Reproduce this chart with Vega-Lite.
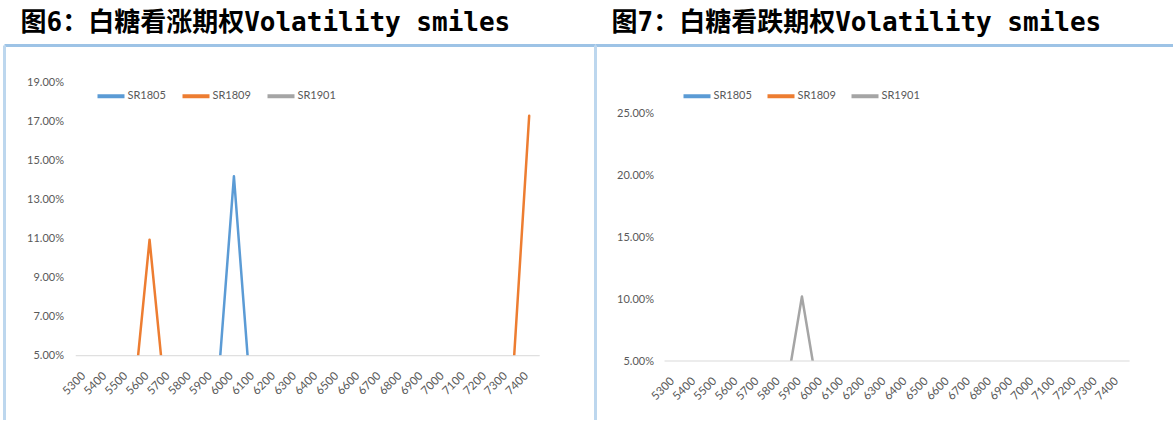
{
  "$schema": "https://vega.github.io/schema/vega-lite/v6.json",
  "background": "#ffffff",
  "padding": {"left": 4, "top": 10, "right": 0, "bottom": 0},
  "spacing": 0,
  "config": {
    "view": {"stroke": null},
    "font": "Lato",
    "axis": {"labelFont": "Lato", "labelColor": "#595959", "labelFontSize": 11, "title": null, "grid": false, "ticks": false, "tickSize": 0},
    "legend": {"labelFont": "Lato", "labelColor": "#595959", "labelFontSize": 11},
    "title": {"font": "DejaVu Sans Mono, Noto Sans CJK SC", "fontSize": 26, "fontWeight": "bold", "color": "#000000", "anchor": "start", "frame": "group", "offset": 9, "dx": 16.5}
  },
  "datasets": {
    "calls": [
      {"strike": 5300, "series": "SR1805", "iv": 0}, {"strike": 5400, "series": "SR1805", "iv": 0}, {"strike": 5500, "series": "SR1805", "iv": 0}, {"strike": 5600, "series": "SR1805", "iv": 0}, {"strike": 5700, "series": "SR1805", "iv": 0}, {"strike": 5800, "series": "SR1805", "iv": 0}, {"strike": 5900, "series": "SR1805", "iv": 0}, {"strike": 6000, "series": "SR1805", "iv": 0.142}, {"strike": 6100, "series": "SR1805", "iv": 0}, {"strike": 6200, "series": "SR1805", "iv": 0}, {"strike": 6300, "series": "SR1805", "iv": 0}, {"strike": 6400, "series": "SR1805", "iv": 0}, {"strike": 6500, "series": "SR1805", "iv": 0}, {"strike": 6600, "series": "SR1805", "iv": 0}, {"strike": 6700, "series": "SR1805", "iv": 0}, {"strike": 6800, "series": "SR1805", "iv": 0}, {"strike": 6900, "series": "SR1805", "iv": 0}, {"strike": 7000, "series": "SR1805", "iv": 0}, {"strike": 7100, "series": "SR1805", "iv": 0}, {"strike": 7200, "series": "SR1805", "iv": 0}, {"strike": 7300, "series": "SR1805", "iv": 0}, {"strike": 7400, "series": "SR1805", "iv": 0},
      {"strike": 5300, "series": "SR1809", "iv": 0}, {"strike": 5400, "series": "SR1809", "iv": 0}, {"strike": 5500, "series": "SR1809", "iv": 0}, {"strike": 5600, "series": "SR1809", "iv": 0.1095}, {"strike": 5700, "series": "SR1809", "iv": 0}, {"strike": 5800, "series": "SR1809", "iv": 0}, {"strike": 5900, "series": "SR1809", "iv": 0}, {"strike": 6000, "series": "SR1809", "iv": 0}, {"strike": 6100, "series": "SR1809", "iv": 0}, {"strike": 6200, "series": "SR1809", "iv": 0}, {"strike": 6300, "series": "SR1809", "iv": 0}, {"strike": 6400, "series": "SR1809", "iv": 0}, {"strike": 6500, "series": "SR1809", "iv": 0}, {"strike": 6600, "series": "SR1809", "iv": 0}, {"strike": 6700, "series": "SR1809", "iv": 0}, {"strike": 6800, "series": "SR1809", "iv": 0}, {"strike": 6900, "series": "SR1809", "iv": 0}, {"strike": 7000, "series": "SR1809", "iv": 0}, {"strike": 7100, "series": "SR1809", "iv": 0}, {"strike": 7200, "series": "SR1809", "iv": 0}, {"strike": 7300, "series": "SR1809", "iv": 0}, {"strike": 7400, "series": "SR1809", "iv": 0.173},
      {"strike": 5300, "series": "SR1901", "iv": 0}, {"strike": 5400, "series": "SR1901", "iv": 0}, {"strike": 5500, "series": "SR1901", "iv": 0}, {"strike": 5600, "series": "SR1901", "iv": 0}, {"strike": 5700, "series": "SR1901", "iv": 0}, {"strike": 5800, "series": "SR1901", "iv": 0}, {"strike": 5900, "series": "SR1901", "iv": 0}, {"strike": 6000, "series": "SR1901", "iv": 0}, {"strike": 6100, "series": "SR1901", "iv": 0}, {"strike": 6200, "series": "SR1901", "iv": 0}, {"strike": 6300, "series": "SR1901", "iv": 0}, {"strike": 6400, "series": "SR1901", "iv": 0}, {"strike": 6500, "series": "SR1901", "iv": 0}, {"strike": 6600, "series": "SR1901", "iv": 0}, {"strike": 6700, "series": "SR1901", "iv": 0}, {"strike": 6800, "series": "SR1901", "iv": 0}, {"strike": 6900, "series": "SR1901", "iv": 0}, {"strike": 7000, "series": "SR1901", "iv": 0}, {"strike": 7100, "series": "SR1901", "iv": 0}, {"strike": 7200, "series": "SR1901", "iv": 0}, {"strike": 7300, "series": "SR1901", "iv": 0}, {"strike": 7400, "series": "SR1901", "iv": 0}
    ],
    "puts": [
      {"strike": 5300, "series": "SR1805", "iv": 0}, {"strike": 5400, "series": "SR1805", "iv": 0}, {"strike": 5500, "series": "SR1805", "iv": 0}, {"strike": 5600, "series": "SR1805", "iv": 0}, {"strike": 5700, "series": "SR1805", "iv": 0}, {"strike": 5800, "series": "SR1805", "iv": 0}, {"strike": 5900, "series": "SR1805", "iv": 0}, {"strike": 6000, "series": "SR1805", "iv": 0}, {"strike": 6100, "series": "SR1805", "iv": 0}, {"strike": 6200, "series": "SR1805", "iv": 0}, {"strike": 6300, "series": "SR1805", "iv": 0}, {"strike": 6400, "series": "SR1805", "iv": 0}, {"strike": 6500, "series": "SR1805", "iv": 0}, {"strike": 6600, "series": "SR1805", "iv": 0}, {"strike": 6700, "series": "SR1805", "iv": 0}, {"strike": 6800, "series": "SR1805", "iv": 0}, {"strike": 6900, "series": "SR1805", "iv": 0}, {"strike": 7000, "series": "SR1805", "iv": 0}, {"strike": 7100, "series": "SR1805", "iv": 0}, {"strike": 7200, "series": "SR1805", "iv": 0}, {"strike": 7300, "series": "SR1805", "iv": 0}, {"strike": 7400, "series": "SR1805", "iv": 0},
      {"strike": 5300, "series": "SR1809", "iv": 0}, {"strike": 5400, "series": "SR1809", "iv": 0}, {"strike": 5500, "series": "SR1809", "iv": 0}, {"strike": 5600, "series": "SR1809", "iv": 0}, {"strike": 5700, "series": "SR1809", "iv": 0}, {"strike": 5800, "series": "SR1809", "iv": 0}, {"strike": 5900, "series": "SR1809", "iv": 0}, {"strike": 6000, "series": "SR1809", "iv": 0}, {"strike": 6100, "series": "SR1809", "iv": 0}, {"strike": 6200, "series": "SR1809", "iv": 0}, {"strike": 6300, "series": "SR1809", "iv": 0}, {"strike": 6400, "series": "SR1809", "iv": 0}, {"strike": 6500, "series": "SR1809", "iv": 0}, {"strike": 6600, "series": "SR1809", "iv": 0}, {"strike": 6700, "series": "SR1809", "iv": 0}, {"strike": 6800, "series": "SR1809", "iv": 0}, {"strike": 6900, "series": "SR1809", "iv": 0}, {"strike": 7000, "series": "SR1809", "iv": 0}, {"strike": 7100, "series": "SR1809", "iv": 0}, {"strike": 7200, "series": "SR1809", "iv": 0}, {"strike": 7300, "series": "SR1809", "iv": 0}, {"strike": 7400, "series": "SR1809", "iv": 0},
      {"strike": 5300, "series": "SR1901", "iv": 0}, {"strike": 5400, "series": "SR1901", "iv": 0}, {"strike": 5500, "series": "SR1901", "iv": 0}, {"strike": 5600, "series": "SR1901", "iv": 0}, {"strike": 5700, "series": "SR1901", "iv": 0}, {"strike": 5800, "series": "SR1901", "iv": 0}, {"strike": 5900, "series": "SR1901", "iv": 0.102}, {"strike": 6000, "series": "SR1901", "iv": 0}, {"strike": 6100, "series": "SR1901", "iv": 0}, {"strike": 6200, "series": "SR1901", "iv": 0}, {"strike": 6300, "series": "SR1901", "iv": 0}, {"strike": 6400, "series": "SR1901", "iv": 0}, {"strike": 6500, "series": "SR1901", "iv": 0}, {"strike": 6600, "series": "SR1901", "iv": 0}, {"strike": 6700, "series": "SR1901", "iv": 0}, {"strike": 6800, "series": "SR1901", "iv": 0}, {"strike": 6900, "series": "SR1901", "iv": 0}, {"strike": 7000, "series": "SR1901", "iv": 0}, {"strike": 7100, "series": "SR1901", "iv": 0}, {"strike": 7200, "series": "SR1901", "iv": 0}, {"strike": 7300, "series": "SR1901", "iv": 0}, {"strike": 7400, "series": "SR1901", "iv": 0}
    ]
  },
  "hconcat": [
    {
      "width": 591, "height": 375,
      "title": {"text": "图6：白糖看涨期权Volatility smiles"},
      "data": {"name": "calls"},
      "layer": [
        {
          "mark": {"type": "line", "clip": true, "strokeWidth": 2.5, "strokeCap": "round", "strokeJoin": "round"},
          "encoding": {
            "x": {"field": "strike", "type": "quantitative", "scale": {"domain": [4909.8, 7712.1], "nice": false, "zero": false},
                  "axis": {"orient": "bottom", "offset": -64.3, "labelAngle": -45, "domain": false, "labelPadding": 14, "labelOffset": -7, "labelFontSize": 11.5, "zindex": 1, "format": "d", "labelFlush": false, "labelOverlap": false,
                           "values": [5300, 5400, 5500, 5600, 5700, 5800, 5900, 6000, 6100, 6200, 6300, 6400, 6500, 6600, 6700, 6800, 6900, 7000, 7100, 7200, 7300, 7400]}},
            "y": {"field": "iv", "type": "quantitative", "scale": {"domain": [0.01703, 0.20933], "nice": false, "zero": false},
                  "axis": {"values": [0.05, 0.07, 0.09, 0.11, 0.13, 0.15, 0.17, 0.19], "format": ".2%", "domain": true, "domainColor": "#BDD7EE", "domainWidth": 3, "labelPadding": -59.5, "labelAlign": "right", "zindex": 1}},
            "color": {"field": "series", "type": "nominal",
                      "scale": {"domain": ["SR1805", "SR1809", "SR1901"], "range": ["#5B9BD5", "#ED7D31", "#A5A5A5"]},
                      "legend": {"orient": "none", "legendX": 91.5, "legendY": 35.5, "direction": "horizontal", "title": null, "symbolType": "stroke", "symbolStrokeWidth": 4, "symbolSize": 729, "labelOffset": 1, "columnPadding": 8}}
          }
        },
        {
          "data": {"values": [{}]},
          "mark": {"type": "rect", "color": "#ffffff", "clip": true},
          "encoding": {
            "x": {"datum": 5250, "type": "quantitative", "axis": null},
            "x2": {"datum": 7450},
            "y": {"datum": 0.05, "type": "quantitative"},
            "y2": {"datum": 0}
          }
        },
        {
          "data": {"values": [{}]},
          "mark": {"type": "rule", "color": "#D9D9D9", "strokeWidth": 1},
          "encoding": {
            "x": {"datum": 5250, "type": "quantitative", "axis": {"orient": "top", "labels": false, "domain": true, "domainColor": "#9DC3E6", "domainWidth": 3}},
            "x2": {"datum": 7450},
            "y": {"datum": 0.05, "type": "quantitative"}
          }
        }
      ],
      "resolve": {"axis": {"x": "independent"}}
    },
    {
      "width": 578, "height": 375,
      "title": {"text": "图7：白糖看跌期权Volatility smiles"},
      "data": {"name": "puts"},
      "layer": [
        {
          "mark": {"type": "line", "clip": true, "strokeWidth": 2.5, "strokeCap": "round", "strokeJoin": "round"},
          "encoding": {
            "x": {"field": "strike", "type": "quantitative", "scale": {"domain": [4921.1, 7655.3], "nice": false, "zero": false},
                  "axis": {"orient": "bottom", "offset": -59, "labelAngle": -45, "domain": false, "labelPadding": 14, "labelOffset": -7, "labelFontSize": 11.5, "zindex": 1, "format": "d", "labelFlush": false, "labelOverlap": false,
                           "values": [5300, 5400, 5500, 5600, 5700, 5800, 5900, 6000, 6100, 6200, 6300, 6400, 6500, 6600, 6700, 6800, 6900, 7000, 7100, 7200, 7300, 7400]}},
            "y": {"field": "iv", "type": "quantitative", "scale": {"domain": [0.00242, 0.30484], "nice": false, "zero": false},
                  "axis": {"values": [0.05, 0.1, 0.15, 0.2, 0.25], "format": ".2%", "domain": true, "domainColor": "#BDD7EE", "domainWidth": 3, "labelPadding": -58.5, "labelAlign": "right", "zindex": 1}},
            "color": {"field": "series", "type": "nominal",
                      "scale": {"domain": ["SR1805", "SR1809", "SR1901"], "range": ["#5B9BD5", "#ED7D31", "#A5A5A5"]},
                      "legend": {"orient": "none", "legendX": 86.5, "legendY": 35.5, "direction": "horizontal", "title": null, "symbolType": "stroke", "symbolStrokeWidth": 4, "symbolSize": 729, "labelOffset": 1, "columnPadding": 7}}
          }
        },
        {
          "data": {"values": [{}]},
          "mark": {"type": "rect", "color": "#ffffff", "clip": true},
          "encoding": {
            "x": {"datum": 5250, "type": "quantitative", "axis": null},
            "x2": {"datum": 7450},
            "y": {"datum": 0.05, "type": "quantitative"},
            "y2": {"datum": 0}
          }
        },
        {
          "data": {"values": [{}]},
          "mark": {"type": "rule", "color": "#D9D9D9", "strokeWidth": 1},
          "encoding": {
            "x": {"datum": 5250, "type": "quantitative", "axis": {"orient": "top", "labels": false, "domain": true, "domainColor": "#9DC3E6", "domainWidth": 3}},
            "x2": {"datum": 7450},
            "y": {"datum": 0.05, "type": "quantitative"}
          }
        }
      ],
      "resolve": {"axis": {"x": "independent"}}
    }
  ],
  "resolve": {"scale": {"color": "independent", "y": "independent", "x": "independent"}, "legend": {"color": "independent"}}
}
